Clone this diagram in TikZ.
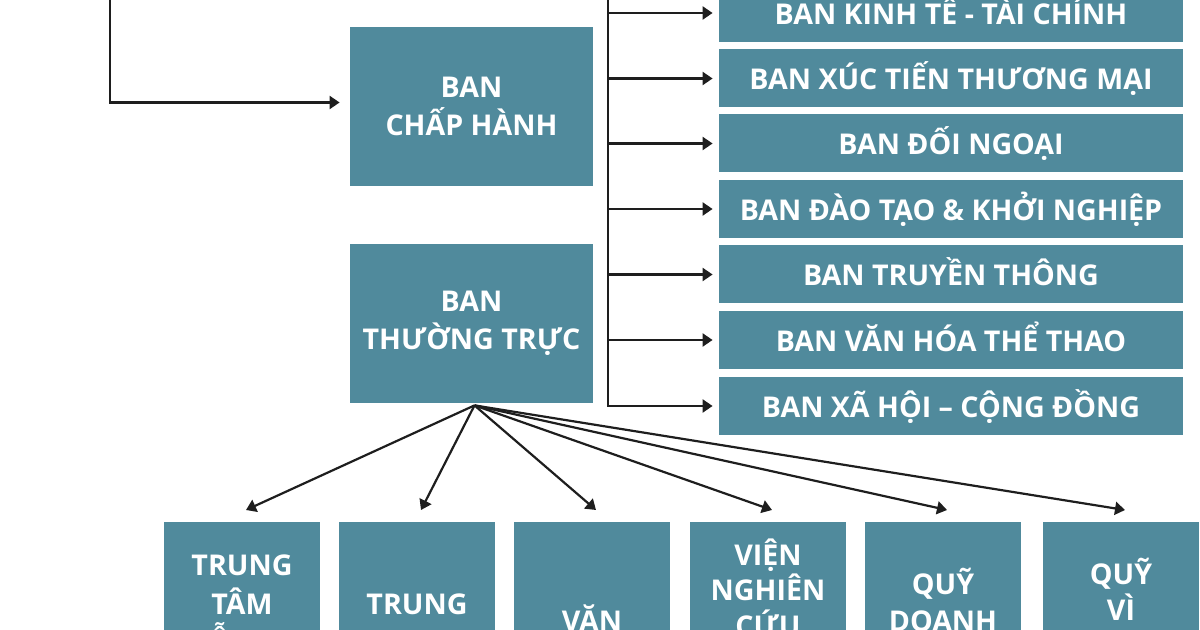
\documentclass[tikz,border=0pt]{standalone}
\usepackage{fontspec}
\newfontfamily\opensans{Open Sans}
\usetikzlibrary{arrows.meta}
\definecolor{hoiblue}{RGB}{80,138,156}
\definecolor{nethe}{RGB}{30,30,30}
\tikzset{
  ban/.style={fill=hoiblue, text=white, inner sep=0pt, minimum width=232pt, minimum height=29pt,
    text height=1.2em, text depth=0.08em},
  khoi/.style={fill=hoiblue, text=white, inner sep=0pt, minimum width=121.5pt, minimum height=79.5pt, align=center},
  donvi/.style={fill=hoiblue, anchor=north, inner sep=0pt, minimum width=78pt, minimum height=100pt},
  chu/.style={text=white, anchor=base, inner sep=0pt},
  muiten/.style={draw=nethe, line width=1.1pt, -{Triangle[length=5pt,width=6.5pt]}},
}
\begin{document}
\begin{tikzpicture}[x=0.5pt, y=-0.5pt, font=\opensans\bfseries\fontsize{14.3}{19}\selectfont]
  \clip (0,0) rectangle (1200,630);
  % right column of ban
  \node[ban] (kinhte) at (951,13) {BAN KINH TẾ - TÀI CHÍNH};
  \node[ban] (xuctien) at (951,78.5) {BAN XÚC TIẾN THƯƠNG MẠI};
  \node[ban] (doingoai) at (951,143.5) {BAN ĐỐI NGOẠI};
  \node[ban] (daotao) at (951,209) {BAN ĐÀO TẠO \& KHỞI NGHIỆP};
  \node[ban] (truyenthong) at (951,274.5) {BAN TRUYỀN THÔNG};
  \node[ban] (vanhoa) at (951,340) {BAN VĂN HÓA THỂ THAO};
  \node[ban] (xahoi) at (951,406) {BAN XÃ HỘI – CỘNG ĐỒNG};
  % middle
  \node[khoi] (chaphanh) at (471.5,106.5) {BAN\\CHẤP HÀNH};
  \node[khoi] (thuongtruc) at (471.5,323.5) {BAN\\THƯỜNG TRỰC};
  % bottom row
  \node[donvi] (hotro) at (242,522) {};
  \node[donvi] (trungtam) at (417,522) {};
  \node[donvi] (vanphong) at (592,522) {};
  \node[donvi] (vien) at (768,522) {};
  \node[donvi] (quydn) at (943,522) {};
  \node[donvi] (quyvi) at (1121,522) {};
  \node[chu] (hotroA) at (242,575) {TRUNG};
  \node[chu] (hotroB) at (242,614) {TÂM};
  \node[chu] (hotroC) at (242,652) {HỖ TRỢ};
  \node[chu] (trungtamA) at (417,614) {TRUNG};
  \node[chu] (vanphongA) at (592,632) {VĂN};
  \node[chu] (vienA) at (768,566) {VIỆN};
  \node[chu] (vienB) at (768,601) {NGHIÊN};
  \node[chu] (vienC) at (768,636) {CỨU};
  \node[chu] (quydnA) at (943,595) {QUỸ};
  \node[chu] (quydnB) at (943,632) {DOANH};
  \node[chu] (quyviA) at (1121,584) {QUỸ};
  \node[chu] (quyviB) at (1121,620) {VÌ};
  % connectors
  \coordinate (goc) at (110,-10);
  \draw[muiten, shorten >=5pt] (goc) |- ([yshift=2pt]chaphanh.west);
  \coordinate (truc) at (608,-10);
  \foreach \b in {kinhte,xuctien,doingoai,daotao,truyenthong,vanhoa,xahoi}
    \draw[muiten, shorten >=3pt] (truc) |- (\b.west);
  \foreach \b in {hotro,trungtam,vanphong,vien,quydn,quyvi}
    \draw[muiten] ([xshift=1.5pt,yshift=-1pt]thuongtruc.south) -- ([xshift=2pt,yshift=6pt]\b.north);
\end{tikzpicture}
\end{document}
